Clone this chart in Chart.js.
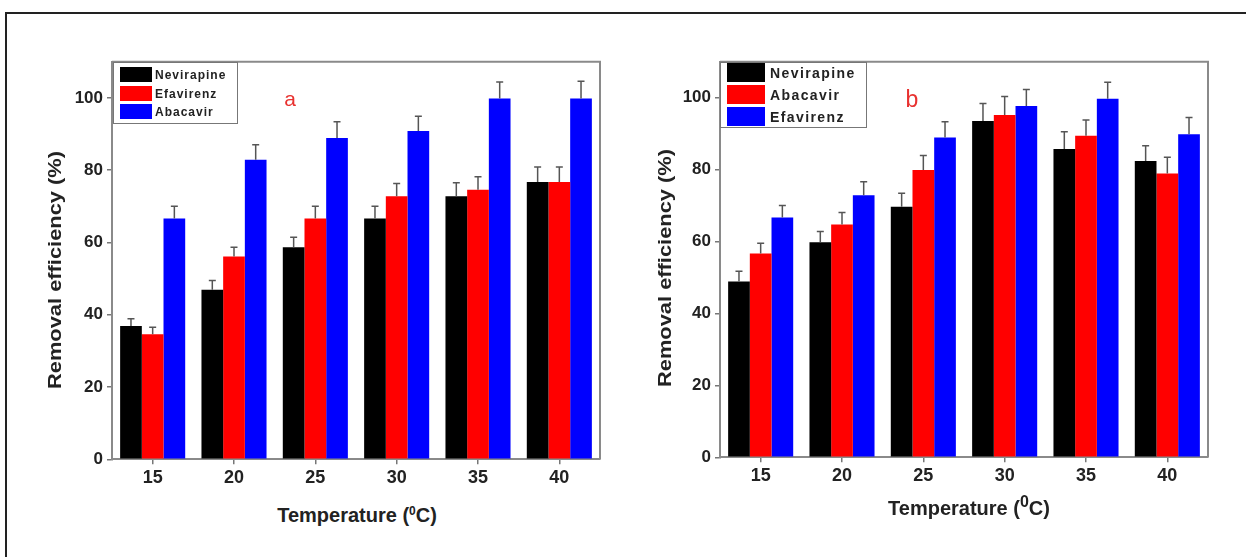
<!DOCTYPE html>
<html>
<head>
<meta charset="utf-8">
<script src="https://cdn.jsdelivr.net/npm/chart.js@4/dist/chart.umd.min.js"></script>
<style>
  html, body { margin: 0; padding: 0; background: #fff; }
  body { width: 1246px; height: 557px; position: relative; overflow: hidden; font-family: "Liberation Sans", Arial, sans-serif; }
  .frame { position: absolute; left: 5px; top: 12px; width: 1260px; height: 560px; border-top: 2px solid #222; border-left: 2px solid #222; }
  .box { position: absolute; top: 40px; width: 600px; height: 460px; }
  .ytitle, .xtitle, .tag, .legend { position: absolute; font-weight: bold; color: #222; white-space: nowrap; }
  .ytitle { font-size: 19px; transform: translate(-50%, -50%) rotate(-90deg) scaleX(1.15); }
  .xtitle { font-size: 20px; transform: translate(-50%, -50%); }
  .xtitle sup { font-size: 0.6em; vertical-align: 0.55em; line-height: 0; }
  .xtitle.big sup { font-size: 0.8em; vertical-align: 0.45em; }
  .tag { color: #e8312f; font-weight: normal; transform: translate(-50%, -50%); }
  .legend { border: 1.5px solid #777; background: #fff; box-sizing: border-box; }
  .legend .sw { position: absolute; }
  .legend .tx { position: absolute; line-height: 1; }
</style>
</head>
<body>
<div class="frame"></div>
<div class="box" style="left:20px"><canvas id="chartA" width="600" height="460"></canvas></div>
<div class="box" style="left:640px"><canvas id="chartB" width="600" height="460"></canvas></div>

<div class="ytitle" style="left:55px; top:270px">Removal efficiency (%)</div>
<div class="ytitle" style="left:665px; top:268px">Removal efficiency (%)</div>
<div class="xtitle" style="left:357px; top:515px">Temperature (<sup>0</sup>C)</div>
<div class="xtitle big" style="left:969px; top:508px">Temperature (<sup>0</sup>C)</div>
<div class="tag" style="left:290px; top:99px; font-size:21px">a</div>
<div class="tag" style="left:912px; top:99px; font-size:23px">b</div>

<div class="legend" id="legA" style="left:113px; top:62px; width:125px; height:62px"></div>
<div class="legend" id="legB" style="left:720px; top:62px; width:147px; height:66px"></div>

<script>
const temps = ['15', '20', '25', '30', '35', '40'];
const colours = ['#000000', '#ff0000', '#0000ff'];

// panel a
const aNames = ['Nevirapine', 'Efavirenz', 'Abacavir'];
const aNevirapine = [36.9, 46.9, 58.7, 66.6, 72.8, 76.7];
const aEfavirenz  = [34.6, 56.1, 66.6, 72.8, 74.6, 76.7];
const aAbacavir   = [66.6, 82.9, 88.9, 90.8, 99.8, 99.8];
const aErrNev = [2.0, 2.6, 2.7, 3.4, 3.7, 4.2];
const aErrEfa = [1.9, 2.6, 3.4, 3.5, 3.6, 4.2];
const aErrAba = [3.4, 4.1, 4.5, 4.1, 4.6, 4.8];

// panel b
const bNames = ['Nevirapine', 'Abacavir', 'Efavirenz'];
const bNevirapine = [48.9, 59.8, 69.7, 93.5, 85.7, 82.4];
const bAbacavir   = [56.7, 64.7, 79.9, 95.2, 89.4, 78.9];
const bEfavirenz  = [66.7, 72.9, 88.9, 97.7, 99.7, 89.8];
const bErrNev = [2.8, 3.0, 3.7, 4.9, 4.8, 4.2];
const bErrAba = [2.8, 3.4, 4.0, 5.1, 4.4, 4.5];
const bErrEfa = [3.3, 3.7, 4.4, 4.6, 4.6, 4.7];

const yTicks = [0, 20, 40, 60, 80, 100];

// upper whiskers + box around the plot area
const extras = {
  id: 'extras',
  afterDatasetsDraw(chart) {
    const { ctx, chartArea: ca, scales: { y } } = chart;
    ctx.save();
    ctx.strokeStyle = '#555';
    ctx.lineWidth = 1.5;
    chart.data.datasets.forEach((ds, i) => {
      chart.getDatasetMeta(i).data.forEach((bar, j) => {
        const top = y.getPixelForValue(ds.data[j] + ds.errors[j]);
        ctx.beginPath();
        ctx.moveTo(bar.x, bar.y);
        ctx.lineTo(bar.x, top);
        ctx.moveTo(bar.x - 3.5, top);
        ctx.lineTo(bar.x + 3.5, top);
        ctx.stroke();
      });
    });
    ctx.strokeStyle = '#8a8a8a';
    ctx.lineWidth = 2;
    ctx.beginPath();
    ctx.moveTo(ca.left, ca.top);
    ctx.lineTo(ca.right, ca.top);
    ctx.lineTo(ca.right, ca.bottom);
    ctx.stroke();
    ctx.restore();
  }
};

function makeChart(id, names, series, errs, yWidth, xHeight, padRight) {
  return new Chart(document.getElementById(id), {
    type: 'bar',
    data: {
      labels: temps,
      datasets: names.map((n, i) => ({
        label: n, data: series[i], errors: errs[i],
        backgroundColor: colours[i], borderWidth: 0,
        barPercentage: 1.0, categoryPercentage: 0.8,
      })),
    },
    options: {
      responsive: false, animation: false,
      layout: { padding: { top: 21.7, right: padRight, left: 0, bottom: 0 } },
      plugins: { legend: { display: false }, tooltip: { enabled: false } },
      scales: {
        x: {
          offset: true,
          grid: { offset: false, drawOnChartArea: false, drawTicks: true, tickLength: 5, color: '#777', lineWidth: 1.5 },
          border: { display: true, color: '#8a8a8a', width: 2 },
          ticks: { color: '#222', padding: 3, font: { family: 'Liberation Sans', size: 18, weight: 'bold' } },
          afterFit: (s) => { s.height = xHeight; },
        },
        y: {
          min: 0, max: 110,
          afterBuildTicks: (s) => { s.ticks = yTicks.map((v) => ({ value: v })); },
          grid: { drawOnChartArea: false, drawTicks: true, tickLength: 5, color: '#777', lineWidth: 1.5 },
          border: { display: true, color: '#8a8a8a', width: 2 },
          ticks: { color: '#222', padding: 4, font: { family: 'Liberation Sans', size: 17, weight: 'bold' } },
          afterFit: (s) => { s.width = yWidth; },
        },
      },
    },
    plugins: [extras],
  });
}

makeChart('chartA', aNames, [aNevirapine, aEfavirenz, aAbacavir], [aErrNev, aErrEfa, aErrAba], 92, 40.7, 20);
makeChart('chartB', bNames, [bNevirapine, bAbacavir, bEfavirenz], [bErrNev, bErrAba, bErrEfa], 80, 42.7, 32);

// legends: swatch + label rows
function legend(id, names, sw, rows, textX, fontSize, spacing) {
  const el = document.getElementById(id);
  el.innerHTML = names.map((n, i) =>
    `<div class="sw" style="left:${sw.x}px; top:${rows[i]}px; width:${sw.w}px; height:${sw.h}px; background:${colours[i]}"></div>` +
    `<div class="tx" style="left:${textX}px; top:${rows[i] + (sw.h - fontSize) / 2}px; font-size:${fontSize}px; letter-spacing:${spacing}px">${n}</div>`
  ).join('');
}
legend('legA', aNames, { x: 6, w: 32, h: 15 }, [4, 23, 41], 41, 12, 1);
legend('legB', bNames, { x: 6, w: 38, h: 19 }, [0, 22, 44], 49, 14, 1.4);
</script>
</body>
</html>
